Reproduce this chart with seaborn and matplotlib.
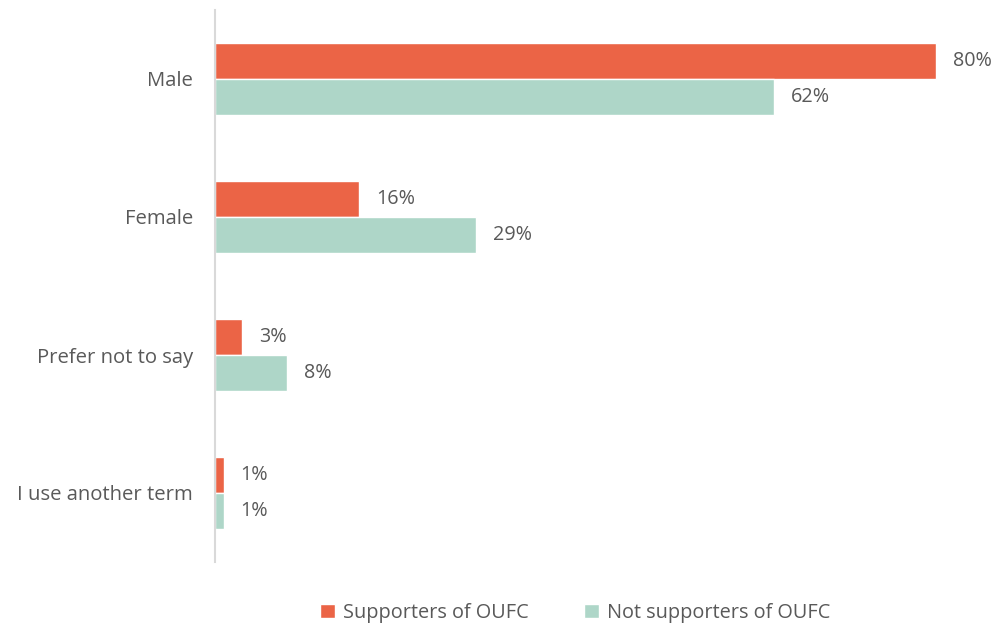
import matplotlib
matplotlib.use("Agg")
import matplotlib.pyplot as plt
import seaborn as sns
import pandas as pd

categories = ["Male", "Female", "Prefer not to say", "I use another term"]
series_names = ["Supporters of OUFC", "Not supporters of OUFC"]
supporters = [80, 16, 3, 1]
not_supporters = [62, 29, 8, 1]
colors = ["#EB6446", "#AED6C8"]

df = pd.DataFrame({
    "category": categories * 2,
    "series": [series_names[0]] * 4 + [series_names[1]] * 4,
    "value": supporters + not_supporters,
})

sns.set_theme(style="white")
plt.rcParams["font.family"] = ["Open Sans", "DejaVu Sans"]
text_color = "#595959"

fig = plt.figure(figsize=(9.97, 6.28), dpi=100)
ax = fig.add_axes([215 / 997, 1 - 562 / 628, 775 / 997, 552 / 628])

sns.barplot(data=df, y="category", x="value", hue="series", order=categories,
            hue_order=series_names, palette=colors, orient="h", width=0.52,
            ax=ax, legend=True, saturation=1)

for container in ax.containers:
    ax.bar_label(container, labels=[f"{v:.0f}%" for v in container.datavalues],
                 padding=12, fontsize=14.2, color=text_color)

ax.set_xlim(0, 86)
ax.set_ylim(3.5, -0.5)
ax.set_xlabel("")
ax.set_ylabel("")
ax.set_xticks([])
ax.tick_params(axis="y", length=0, pad=16, labelsize=14.6, labelcolor=text_color)
for s in ["top", "right", "bottom"]:
    ax.spines[s].set_visible(False)
ax.spines["left"].set_color("#D9D9D9")
ax.spines["left"].set_linewidth(1.5)

leg = ax.legend(loc="center", bbox_to_anchor=(575 / 997, 1 - 613 / 628),
                bbox_transform=fig.transFigure, ncol=2, frameon=False,
                fontsize=14.3, handlelength=0.75, handleheight=0.75,
                handletextpad=0.4, columnspacing=2.8, labelcolor=text_color)

fig.savefig("out.png", dpi=100)
